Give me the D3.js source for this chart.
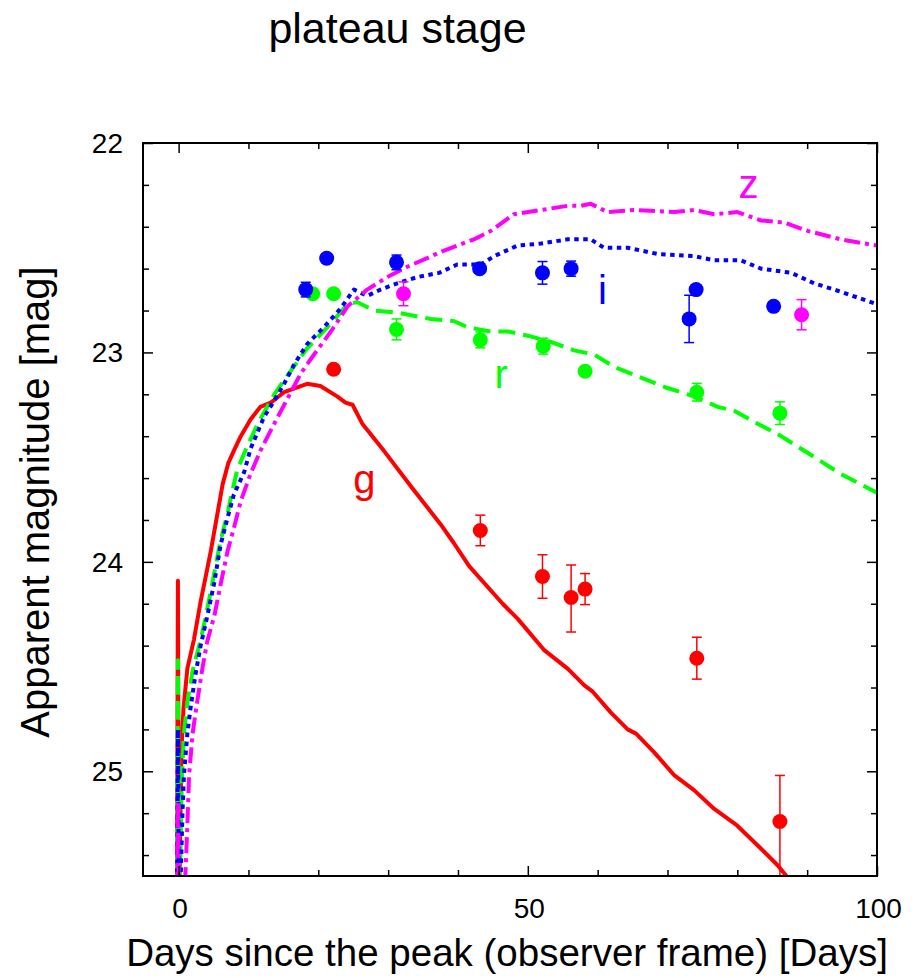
<!DOCTYPE html>
<html>
<head>
<meta charset="utf-8">
<script src="https://cdn.jsdelivr.net/npm/d3@7"></script>
<style>
  html, body { margin: 0; padding: 0; background: #fff; }
  svg { display: block; }
  text { font-family: "Liberation Sans", Arial, Helvetica, sans-serif; }
</style>
</head>
<body>
<svg id="chart" width="923" height="978"></svg>
<script>
// ---------------- data ----------------
const title = "plateau stage";
const xLabel = "Days since the peak (observer frame) [Days]";
const yLabel = "Apparent magnitude [mag]";
const xMajorTicks = [0, 50, 100];
const yMajorTicks = [22, 23, 24, 25];
const bands = ["g", "r", "i", "z"];
const bandColors = ["#ff0000", "#00ff00", "#0000ff", "#ff00ff"];

// model curves (days, magnitude)
const gModelDays = [-0.25, -0.1, 0.05, 0.15, 0.4, 0.7, 1.25, 2.2, 3.15, 4.0, 4.6, 5.4, 6.3, 7.1, 7.9, 8.9, 10.3, 11.7, 13.2, 15.1, 18.4, 20.3, 22.7, 23.9, 24.9, 26.3, 29.4, 33.5, 37.5, 39.4, 41.6, 46.4, 48.5, 52.3, 55.7, 58.1, 59.3, 61.9, 64.3, 65.5, 68.1, 71.0, 73.8, 76.7, 80.0, 83.4, 85.8, 88.5];
const gModelMag  = [25.7, 24.09, 25.7, 25.5, 24.9, 24.70, 24.51, 24.37, 24.19, 24.05, 23.95, 23.80, 23.63, 23.53, 23.47, 23.40, 23.32, 23.26, 23.24, 23.19, 23.15, 23.16, 23.21, 23.24, 23.25, 23.34, 23.47, 23.65, 23.82, 23.91, 24.02, 24.20, 24.27, 24.42, 24.51, 24.59, 24.62, 24.72, 24.80, 24.82, 24.91, 25.02, 25.09, 25.18, 25.26, 25.37, 25.45, 25.56];

const rModelDays = [-0.25, -0.1, 0.05, 0.2, 0.45, 0.76, 1.25, 2.0, 3.1, 3.9, 4.6, 5.3, 6.0, 7.0, 7.7, 8.4, 9.8, 11.5, 13.7, 16.0, 18.4, 21.3, 24.2, 25.6, 28.0, 31.3, 36.1, 39.4, 41.4, 44.7, 47.1, 50.0, 53.3, 56.6, 59.5, 62.4, 66.2, 70.0, 73.8, 77.2, 79.6, 82.9, 85.8, 90.1, 94.8, 100];
const rModelMag  = [25.7, 24.47, 25.7, 25.5, 25.05, 24.82, 24.67, 24.52, 24.38, 24.26, 24.14, 24.02, 23.90, 23.77, 23.66, 23.56, 23.45, 23.33, 23.20, 23.09, 22.98, 22.88, 22.77, 22.76, 22.80, 22.81, 22.84, 22.85, 22.88, 22.90, 22.90, 22.92, 22.95, 22.99, 23.01, 23.07, 23.12, 23.17, 23.21, 23.26, 23.28, 23.34, 23.39, 23.48, 23.58, 23.67];

const iModelDays = [-0.25, -0.1, 0.05, 0.3, 0.55, 0.76, 1.25, 1.7, 2.4, 3.15, 4.1, 5.1, 6.0, 7.0, 7.9, 9.4, 10.3, 12.2, 13.7, 15.1, 16.5, 18.4, 20.8, 23.2, 25.1, 27.0, 28.9, 31.3, 34.2, 37.3, 39.9, 43.3, 45.2, 48.5, 51.9, 55.7, 59.0, 60.9, 64.3, 68.6, 73.8, 76.7, 80.5, 83.4, 87.7, 91.0, 94.8, 100];
const iModelMag  = [25.7, 24.80, 25.7, 25.5, 25.2, 25.02, 24.82, 24.70, 24.54, 24.40, 24.26, 24.10, 23.92, 23.79, 23.68, 23.57, 23.46, 23.31, 23.23, 23.15, 23.06, 22.96, 22.88, 22.79, 22.70, 22.73, 22.70, 22.67, 22.64, 22.62, 22.58, 22.58, 22.54, 22.49, 22.48, 22.46, 22.46, 22.50, 22.50, 22.53, 22.54, 22.56, 22.56, 22.60, 22.62, 22.67, 22.71, 22.77];

const zModelDays = [-0.25, -0.1, 0.05, 0.8, 1.0, 1.25, 1.5, 2.0, 2.65, 3.4, 4.1, 5.1, 6.0, 7.0, 7.9, 8.9, 10.3, 11.7, 13.7, 15.6, 17.5, 19.4, 21.8, 24.2, 27.0, 29.9, 32.8, 35.6, 37.5, 39.9, 42.3, 44.7, 48.0, 51.9, 55.7, 57.6, 59.0, 61.4, 65.2, 71.0, 73.8, 76.7, 80.0, 83.4, 86.7, 90.1, 94.8, 100];
const zModelMag  = [25.7, 25.14, 25.7, 25.6, 25.47, 25.26, 25.02, 24.82, 24.67, 24.51, 24.38, 24.26, 24.11, 23.95, 23.84, 23.71, 23.58, 23.47, 23.34, 23.22, 23.10, 23.01, 22.90, 22.78, 22.70, 22.64, 22.59, 22.55, 22.52, 22.49, 22.46, 22.42, 22.34, 22.32, 22.30, 22.30, 22.29, 22.33, 22.32, 22.33, 22.32, 22.34, 22.33, 22.37, 22.38, 22.42, 22.46, 22.49];

// observed photometry (days, magnitude, error toward bright, error toward faint)
const gObsDays = [22.2, 43.2, 52.1, 56.2, 58.2, 74.2, 86.1];
const gObsMag  = [23.08, 23.85, 24.07, 24.17, 24.13, 24.46, 25.24];
const gObsErrBright = [0, 0.073, 0.104, 0.155, 0.074, 0.10, 0.22];
const gObsErrFaint  = [0, 0.073, 0.104, 0.165, 0.074, 0.10, 0.35];

const rObsDays = [19.2, 22.2, 31.2, 43.2, 52.2, 58.2, 74.2, 86.1];
const rObsMag  = [22.72, 22.72, 22.89, 22.94, 22.97, 23.09, 23.19, 23.29];
const rObsErrBright = [0, 0, 0.05, 0.038, 0.038, 0, 0.042, 0.054];
const rObsErrFaint  = [0, 0, 0.05, 0.038, 0.038, 0, 0.042, 0.054];

const iObsDays = [18.2, 21.2, 31.2, 43.1, 52.1, 56.2, 73.1, 74.1, 85.2];
const iObsMag  = [22.70, 22.55, 22.57, 22.60, 22.62, 22.60, 22.84, 22.70, 22.78];
const iObsErrBright = [0.035, 0.02, 0.035, 0.02, 0.054, 0.036, 0.113, 0.02, 0.02];
const iObsErrFaint  = [0.035, 0.02, 0.035, 0.02, 0.054, 0.036, 0.113, 0.02, 0.02];

const zObsDays = [32.2, 89.2];
const zObsMag  = [22.72, 22.82];
const zObsErrBright = [0.057, 0.072];
const zObsErrFaint  = [0.057, 0.072];

// curve labels: band, day, magnitude (baseline)
const labelBands = ["z", "i", "r", "g"];
const labelDays  = [81.6, 60.7, 46.2, 26.6];
const labelMags  = [22.263, 22.767, 23.17, 23.67];

// ---------------- layout ----------------
const svg = d3.select("#chart");
const L = 143, R = 877, T = 143, B = 876;
const x = d3.scaleLinear().domain([-5.1, 100]).range([L, R]);
const y = d3.scaleLinear().domain([22, 25.5]).range([T, B]);

const models = [
  {band: "g", days: gModelDays, mag: gModelMag, dash: null},
  {band: "r", days: rModelDays, mag: rModelMag, dash: "17,8"},
  {band: "i", days: iModelDays, mag: iModelMag, dash: "4.5,4.5"},
  {band: "z", days: zModelDays, mag: zModelMag, dash: "16,5,4,5"}
];
const obs = [
  {band: "g", days: gObsDays, mag: gObsMag, eb: gObsErrBright, ef: gObsErrFaint},
  {band: "r", days: rObsDays, mag: rObsMag, eb: rObsErrBright, ef: rObsErrFaint},
  {band: "i", days: iObsDays, mag: iObsMag, eb: iObsErrBright, ef: iObsErrFaint},
  {band: "z", days: zObsDays, mag: zObsMag, eb: zObsErrBright, ef: zObsErrFaint}
];
const color = b => bandColors[bands.indexOf(b)];

svg.append("defs").append("clipPath").attr("id", "clip")
  .append("rect").attr("x", L).attr("y", T).attr("width", R - L).attr("height", B - T);

// title
svg.append("text").attr("x", 397.5).attr("y", 43).attr("text-anchor", "middle")
  .attr("font-size", 43).attr("fill", "#000").text(title);

const plot = svg.append("g").attr("clip-path", "url(#clip)");

// model lines
const line = d3.line().x(d => x(d[0])).y(d => y(d[1]));
models.forEach(m => {
  const pts = m.days.map((d, k) => [d, m.mag[k]]);
  plot.append("path").datum(pts)
    .attr("d", line)
    .attr("fill", "none")
    .attr("stroke", color(m.band))
    .attr("stroke-width", 4)
    .attr("stroke-linejoin", "round")
    .attr("stroke-dasharray", m.dash);
});

// observations
obs.forEach(o => {
  const c = color(o.band);
  const g = plot.append("g");
  o.days.forEach((d, k) => {
    const cx = x(d);
    if (o.eb[k] > 0 || o.ef[k] > 0) {
      const y1 = y(o.mag[k] - o.eb[k]), y2 = y(o.mag[k] + o.ef[k]);
      g.append("line").attr("x1", cx).attr("x2", cx).attr("y1", y1).attr("y2", y2)
        .attr("stroke", c).attr("stroke-width", 1.5);
      [y1, y2].forEach(yy => g.append("line")
        .attr("x1", cx - 5).attr("x2", cx + 5).attr("y1", yy).attr("y2", yy)
        .attr("stroke", c).attr("stroke-width", 1.5));
    }
    g.append("circle").attr("cx", cx).attr("cy", y(o.mag[k])).attr("r", 7.5).attr("fill", c);
  });
});

// curve labels
labelBands.forEach((b, k) => {
  svg.append("text").attr("x", x(labelDays[k])).attr("y", y(labelMags[k]))
    .attr("text-anchor", "middle").attr("font-size", 40).attr("fill", color(b)).text(b);
});

// axes with inward ticks on all four sides
const xMinor = d3.range(0, 101, 10);
const yMinor = d3.range(22, 25.51, 0.2).map(v => +v.toFixed(1));
const isMajX = v => xMajorTicks.includes(v);
const isMajY = v => yMajorTicks.some(t => Math.abs(t - v) < 1e-6);

const axB = d3.axisBottom(x).tickValues(xMinor).tickSizeInner(0).tickSizeOuter(0).tickFormat("");
const axT = d3.axisTop(x).tickValues(xMinor).tickSizeInner(0).tickSizeOuter(0).tickFormat("");
const axL = d3.axisLeft(y).tickValues(yMinor).tickSizeInner(0).tickSizeOuter(0).tickFormat("");
const axR = d3.axisRight(y).tickValues(yMinor).tickSizeInner(0).tickSizeOuter(0).tickFormat("");

function styleAxis(g, dir, majorFn) {
  g.select(".domain").remove();
  g.selectAll(".tick line").each(function(v) {
    const len = majorFn(v) ? 10 : 6;
    const s = d3.select(this).attr("stroke", "#000").attr("stroke-width", 1.5);
    if (dir === "b") s.attr("y2", -len);
    if (dir === "t") s.attr("y2", len);
    if (dir === "l") s.attr("x2", len);
    if (dir === "r") s.attr("x2", -len);
  });
}
svg.append("g").attr("transform", `translate(0,${B})`).call(axB).call(g => styleAxis(g, "b", isMajX));
svg.append("g").attr("transform", `translate(0,${T})`).call(axT).call(g => styleAxis(g, "t", isMajX));
svg.append("g").attr("transform", `translate(${L},0)`).call(axL).call(g => styleAxis(g, "l", isMajY));
svg.append("g").attr("transform", `translate(${R},0)`).call(axR).call(g => styleAxis(g, "r", isMajY));

// tick labels
const xLab = svg.append("g");
xMajorTicks.forEach(v => xLab.append("text").attr("x", x(v) + 1.5).attr("y", 918)
  .attr("text-anchor", "middle").attr("font-size", 28).attr("fill", "#000").text(v));
const yLab = svg.append("g");
yMajorTicks.forEach(v => yLab.append("text").attr("x", 123).attr("y", y(v) + 10)
  .attr("text-anchor", "end").attr("font-size", 28).attr("fill", "#000").text(v));

// frame
svg.append("rect").attr("x", L).attr("y", T).attr("width", R - L).attr("height", B - T)
  .attr("fill", "none").attr("stroke", "#000").attr("stroke-width", 2);

// axis titles
svg.append("text").attr("x", 507).attr("y", 966).attr("text-anchor", "middle")
  .attr("font-size", 38.5).attr("fill", "#000").text(xLabel);
svg.append("text").attr("transform", "translate(49,502) rotate(-90)")
  .attr("text-anchor", "middle").attr("font-size", 40).attr("fill", "#000").text(yLabel);
</script>
</body>
</html>
